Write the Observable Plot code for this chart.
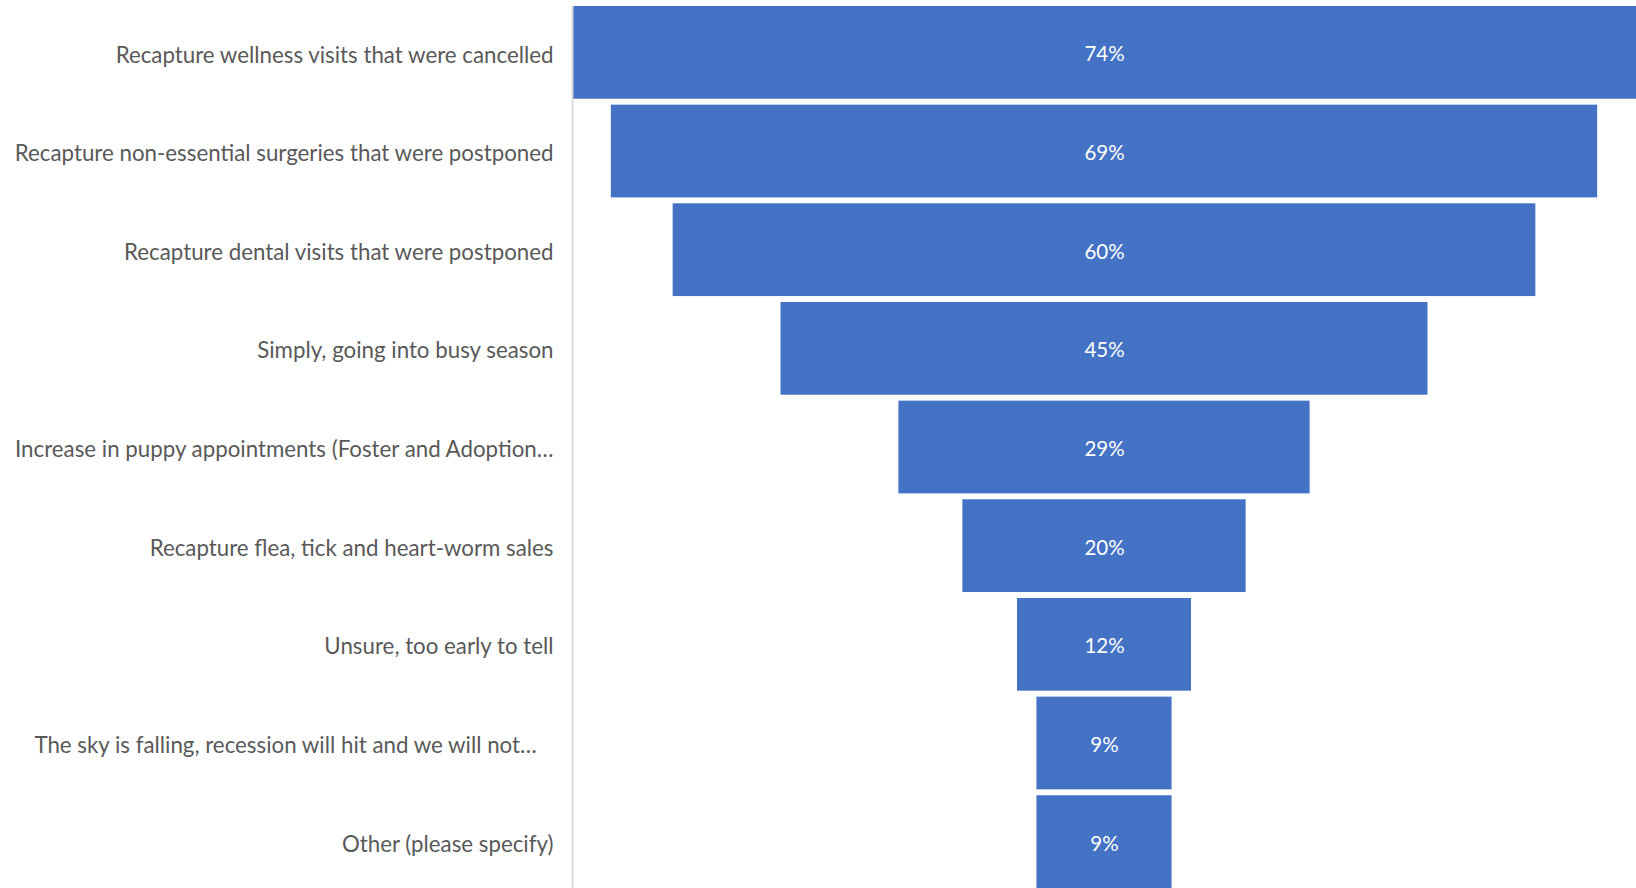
<!DOCTYPE html>
<html>
<head>
<meta charset="utf-8">
<script src="https://cdn.jsdelivr.net/npm/d3@7"></script>
<script src="https://cdn.jsdelivr.net/npm/@observablehq/plot@0.6"></script>
<style>
  html, body { margin: 0; padding: 0; background: #ffffff; }
  #chart svg { display: block; }
</style>
</head>
<body>
<div id="chart"></div>
<script>
const categories = [
  "Recapture wellness visits that were cancelled",
  "Recapture non-essential surgeries that were postponed",
  "Recapture dental visits that were postponed",
  "Simply, going into busy season",
  "Increase in puppy appointments (Foster and Adoption…",
  "Recapture flea, tick and heart-worm sales",
  "Unsure, too early to tell",
  "The sky is falling, recession will hit and we will not…\u2003",
  "Other (please specify)"
];
const values = [0.74, 0.686, 0.60, 0.45, 0.286, 0.197, 0.121, 0.094, 0.094];

const data = categories.map((c, i) => ({category: c, value: values[i]}));
const half = d3.max(values) / 2;

const chart = Plot.plot({
  width: 1636,
  height: 888,
  marginLeft: 572,
  marginRight: 0,
  marginTop: 6,
  marginBottom: 0,
  style: {fontFamily: "Lato, 'Open Sans', sans-serif", fontSize: "20px", background: "#ffffff"},
  x: {domain: [-half, half], axis: null},
  y: {domain: categories, paddingInner: 0.06, paddingOuter: 0, round: false, label: null},
  marks: [
    Plot.barX(data, {y: "category", x1: d => -d.value / 2, x2: d => d.value / 2, fill: "#4472C4"}),
    Plot.text(data, {y: "category", x: () => 0, text: d => d3.format(".0%")(d.value), fill: "white", fontSize: 20.5, dy: 2}),
    Plot.axisY({tickSize: 0, tickPadding: 19, fontSize: 22.3, color: "#595959", label: null, textAnchor: "end", dy: 2.5}),
    Plot.ruleX([-half], {stroke: "#d9d9d9", strokeWidth: 2})
  ]
});
document.getElementById("chart").appendChild(chart);
</script>
</body>
</html>
